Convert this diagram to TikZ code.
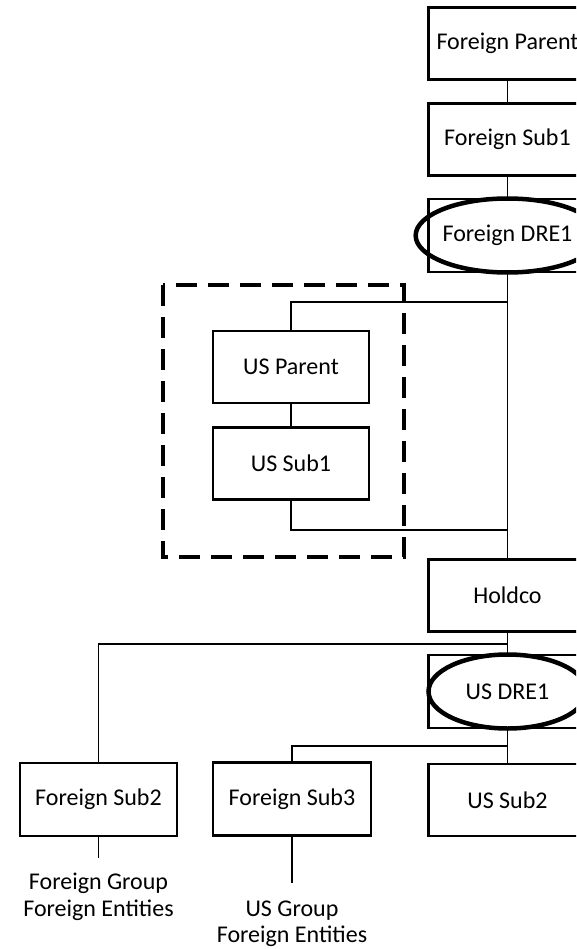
\documentclass[tikz,border=0pt]{standalone}
\usepackage{fontspec}
\setmainfont{Carlito}
\usetikzlibrary{shapes.geometric}
\begin{document}
\begin{tikzpicture}[x=1pt,y=-1pt,
  lbl/.style={font=\fontsize{24}{28}\selectfont},
  box/.style={draw, line width=2.6pt, minimum width=158pt, minimum height=72pt, inner sep=0pt, lbl},
  drebox/.style={draw, line width=2.2pt, minimum width=158pt, minimum height=73pt, inner sep=0pt},
  ell/.style={ellipse, draw, line width=4.5pt, minimum width=158pt, minimum height=74pt, inner sep=0pt, lbl},
  conn/.style={line width=1.8pt},
  grp/.style={align=center, font=\fontsize{24}{26.5}\selectfont, inner sep=0pt},
  dashbox/.style={line width=4pt, dash pattern=on 21pt off 11pt}]
\useasboundingbox (0,0) rectangle (576,949);
\clip (0,0) rectangle (576,949);
% right column
\node[box] (FP) at (507.5,43.5) {Foreign Parent};
\node[box] (FS1) at (507.5,139.5) {Foreign Sub1};
\node[drebox] (FDREbox) at (507.5,235.5) {};
\node[ell] (FDRE) at (507.5,235.5) {Foreign DRE1};
\node[box] (HC) at (507.5,595.5) {Holdco};
\node[drebox] (USDREbox) at (507.5,691.5) {};
\node[ell] (USDRE) at (507.5,691.5) {US DRE1};
\node[box] (USS2) at (507.5,800) {US Sub2};
% US group
\node[box, minimum width=156pt] (USP) at (291,367) {US Parent};
\node[box, minimum width=156pt] (USS1) at (291,463.5) {US Sub1};
\draw[dashbox] (163,285) rectangle (404,557);
% bottom
\node[box, minimum width=157pt, minimum height=73pt] (FS2) at (98.5,799.5) {Foreign Sub2};
\node[box, minimum width=158pt, minimum height=73pt] (FS3) at (292,799) {Foreign Sub3};
\node[grp] (G2) at (98.5,897) {Foreign Group\\Foreign Entities};
\node[grp] (G3) at (292,924) {US Group\\Foreign Entities};
% junctions
\coordinate (j1) at (507.5,302);
\coordinate (j2) at (507.5,530);
\coordinate (j3) at (507.5,644);
\coordinate (j4) at (507.5,746);
\coordinate (e2) at (98.5,858);
\coordinate (e3) at (292,883);
% connectors
\draw[conn] (FP.south) -- (FS1.north);
\draw[conn] (FS1.south) -- (FDREbox.north);
\draw[conn] (FDREbox.south) -- (HC.north);
\draw[conn] (USP.north) |- (j1);
\draw[conn] (USP.south) -- (USS1.north);
\draw[conn] (USS1.south) |- (j2);
\draw[conn] (HC.south) -- (USDREbox.north);
\draw[conn] (j3) -| (FS2.north);
\draw[conn] (USDREbox.south) -- (USS2.north);
\draw[conn] (j4) -| (FS3.north);
\draw[conn] (FS2.south) -- (e2);
\draw[conn] (FS3.south) -- (e3);
\end{tikzpicture}
\end{document}
